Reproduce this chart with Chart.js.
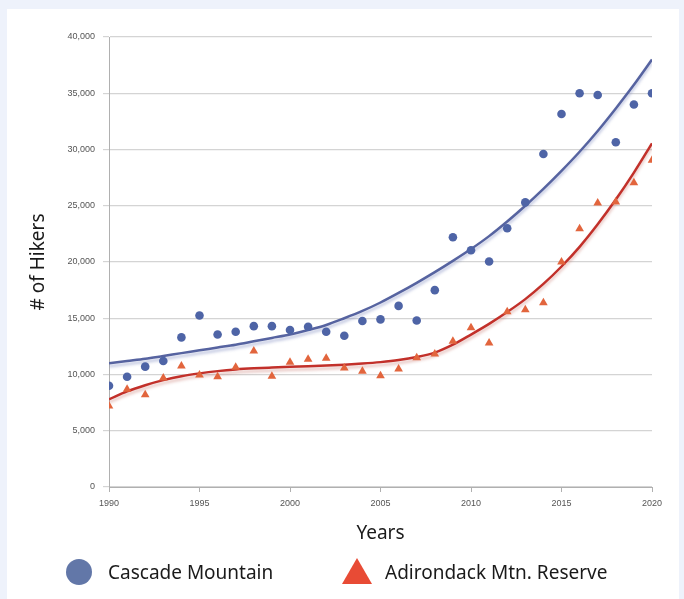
<!DOCTYPE html>
<html>
<head>
<meta charset="utf-8">
<script src="https://cdn.jsdelivr.net/npm/chart.js@4/dist/chart.umd.min.js"></script>
<style>
  html, body { margin: 0; padding: 0; }
  body { width: 684px; height: 599px; background: #eef2fb; position: relative; overflow: hidden; font-family: "Noto Sans", sans-serif; }
  #panel { position: absolute; left: 7px; top: 9px; width: 672px; height: 600px; background: #ffffff; }
  #wrap { position: absolute; left: 0; top: 0; width: 684px; height: 599px; }
  .legend-text { position: absolute; top: 558px; font-size: 19px; color: #1a1a1a; line-height: 28px; white-space: nowrap; }
  #mark-circle { position: absolute; left: 66px; top: 559px; width: 26px; height: 26px; border-radius: 50%; background: #6277a8; }
  #mark-tri { position: absolute; left: 342px; top: 558px; width: 0; height: 0; border-left: 15px solid transparent; border-right: 15px solid transparent; border-bottom: 26px solid #e84b35; }
</style>
</head>
<body>
<div id="panel"></div>
<div id="wrap"><canvas id="chart" width="684" height="599"></canvas></div>
<div id="mark-circle"></div>
<div class="legend-text" style="left:108px">Cascade Mountain</div>
<div id="mark-tri"></div>
<div class="legend-text" style="left:385px">Adirondack Mtn. Reserve</div>
<script>
var years = [1990, 1991, 1992, 1993, 1994, 1995, 1996, 1997, 1998, 1999,
             2000, 2001, 2002, 2003, 2004, 2005, 2006, 2007, 2008, 2009,
             2010, 2011, 2012, 2013, 2014, 2015, 2016, 2017, 2018, 2019, 2020];

var cascade = [9000, 9800, 10700, 11200, 13300, 15250, 13550, 13800, 14300, 14300,
               13950, 14250, 13800, 13450, 14750, 14900, 16100, 14800, 17500, 22200,
               21050, 20050, 23000, 25300, 29600, 33150, 35000, 34850, 30650, 34000, 35000];

var adirondack = [7200, 8700, 8200, 9700, 10750, 9950, 9800, 10650, 12100, 9850,
                  11100, 11350, 11450, 10580, 10300, 9880, 10480, 11480, 11820, 12950,
                  14150, 12800, 15580, 15750, 16380, 20000, 22950, 25250, 25330, 27050, 29050];

// trend curves, year by year
var cascadeTrend = [11000, 11200, 11400, 11650, 11900, 12150, 12400, 12650, 12950, 13250,
                    13550, 13950, 14400, 15000, 15650, 16400, 17250, 18150, 19100, 20100,
                    21150, 22300, 23600, 25000, 26500, 28100, 29800, 31650, 33650, 35750, 38000];

var adirondackTrend = [7800, 8500, 9050, 9500, 9850, 10100, 10300, 10450, 10550, 10620,
                       10680, 10730, 10790, 10870, 10970, 11100, 11280, 11550, 11950, 12650,
                       13550, 14500, 15550, 16700, 18050, 19600, 21350, 23350, 25550, 27950, 30550];

var yTicks = [0, 5000, 10000, 15000, 20000, 25000, 30000, 35000, 40000];
var xTicks = [1990, 1995, 2000, 2005, 2010, 2015, 2020];

function pairs(xs, ys) {
   var out = [];
   for (var i = 0; i < xs.length; i++) {
      out.push({x: xs[i], y: ys[i]});
   }
   return out;
}

// soft drop shadow under the trend lines
var trendShadow = {
   id: 'trendShadow',
   beforeDatasetDraw: function(chart, args) {
      var ds = chart.data.datasets[args.index];
      chart.ctx.save();
      if (ds.showLine) {
         chart.ctx.shadowColor = ds.shadowColor;
         chart.ctx.shadowBlur = 3;
         chart.ctx.shadowOffsetY = 3;
      }
   },
   afterDatasetDraw: function(chart) {
      chart.ctx.restore();
   }
};

var tickFont = {family: '"Liberation Sans", sans-serif', size: 9};
var titleFont = {family: '"Noto Sans", sans-serif', size: 19};

new Chart(document.getElementById('chart'), {
   type: 'scatter',
   data: {
      datasets: [
         {
            label: 'Cascade Mountain',
            data: pairs(years, cascade),
            pointStyle: 'circle',
            pointRadius: 4.3,
            backgroundColor: '#4e64a6',
            borderColor: '#4e64a6',
            borderWidth: 0
         },
         {
            label: 'Adirondack Mtn. Reserve',
            data: pairs(years, adirondack),
            pointStyle: 'triangle',
            pointRadius: 5,
            backgroundColor: '#e2653d',
            borderColor: '#e2653d',
            borderWidth: 0
         },
         {
            label: 'Cascade trend',
            data: pairs(years, cascadeTrend),
            showLine: true,
            pointRadius: 0,
            borderColor: '#5663a0',
            borderWidth: 2.5,
            cubicInterpolationMode: 'monotone',
            shadowColor: 'rgba(110, 125, 185, 0.45)'
         },
         {
            label: 'Adirondack trend',
            data: pairs(years, adirondackTrend),
            showLine: true,
            pointRadius: 0,
            borderColor: '#c2302a',
            borderWidth: 2.5,
            cubicInterpolationMode: 'monotone',
            shadowColor: 'rgba(200, 120, 110, 0.45)'
         }
      ]
   },
   options: {
      responsive: false,
      animation: false,
      layout: {padding: {left: 23, top: 37, right: 32, bottom: 50}},
      plugins: {
         legend: {display: false},
         tooltip: {enabled: false}
      },
      scales: {
         x: {
            type: 'linear',
            min: 1990,
            max: 2020,
            afterBuildTicks: function(scale) {
               scale.ticks = xTicks.map(function(v) { return {value: v}; });
            },
            afterFit: function(scale) { scale.height = 62; },
            grid: {display: true, drawOnChartArea: false, drawTicks: true, tickLength: 5, color: '#b0b0b0'},
            border: {display: true, color: '#b0b0b0', width: 1},
            ticks: {
               font: tickFont,
               color: '#555555',
               padding: 6,
               maxRotation: 0,
               callback: function(v) { return String(v); }
            },
            title: {display: true, text: 'Years', font: titleFont, color: '#1a1a1a', padding: {top: 4, bottom: 4}}
         },
         y: {
            min: 0,
            max: 40000,
            afterBuildTicks: function(scale) {
               scale.ticks = yTicks.map(function(v) { return {value: v}; });
            },
            afterFit: function(scale) { scale.width = 86; },
            grid: {color: '#d4d4d4', lineWidth: 1.2, tickLength: 6},
            border: {display: true, color: '#b0b0b0', width: 1},
            ticks: {
               font: tickFont,
               color: '#555555',
               padding: 8,
               callback: function(v) { return v.toLocaleString('en-US'); }
            },
            title: {display: true, text: '# of Hikers', font: titleFont, color: '#1a1a1a', padding: {top: 4, bottom: 4}}
         }
      }
   },
   plugins: [trendShadow]
});
</script>
</body>
</html>
